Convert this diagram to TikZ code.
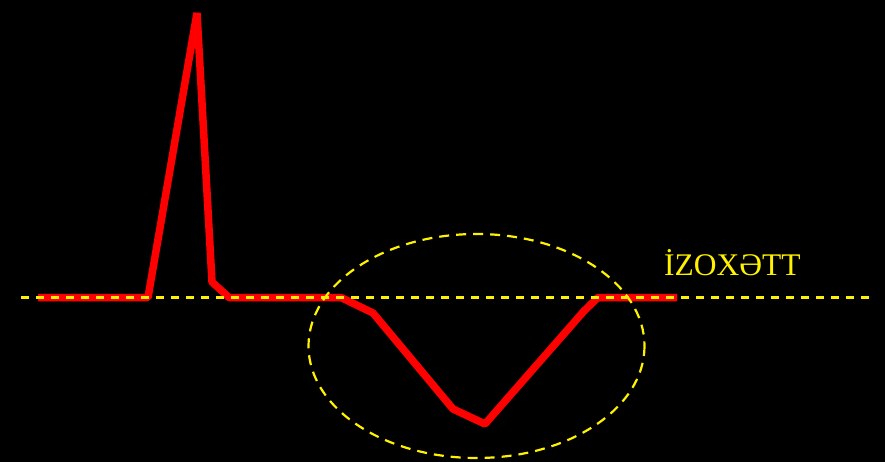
\documentclass[tikz,border=0pt]{standalone}
\usepackage{fontspec}
\setmainfont{Liberation Serif}
\begin{document}
\begin{tikzpicture}[x=1pt,y=-1pt,
  wave/.style={draw=red,line width=7.5pt,line join=bevel},
  guide/.style={draw=yellow,line width=2.2pt,dash pattern=on 8pt off 7pt},
  label/.style={text=yellow,font=\fontsize{31.5}{31.5}\selectfont,inner sep=0pt,anchor=base west}]
\fill[black] (0,0) rectangle (885,462);
\useasboundingbox (0,0) rectangle (885,462);
% ECG trace
\draw[wave] (38,297.5) -- (148,297.5) -- (197,13) -- (212,282) -- (229,297.5) -- (341,297.5)
  -- (373,313) -- (453,409) -- (485,424) -- (584,311) -- (598,297.5) -- (677,297.5);
% isoline and ellipse
\draw[guide] (21,297.5) -- (870,297.5);
\draw[guide,dash pattern=on 10pt off 7pt] (476.5,346) ellipse [x radius=168,y radius=112];
\node[label] (iso) at (664,275) {İZOXƏTT};
\end{tikzpicture}
\end{document}
